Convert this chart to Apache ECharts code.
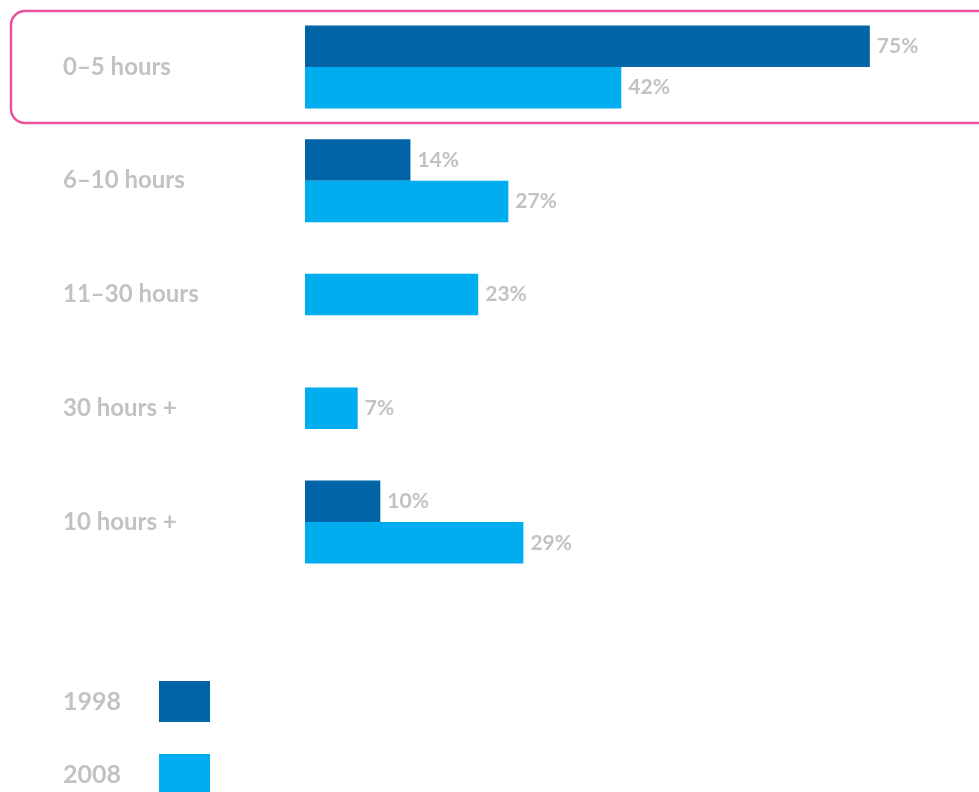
<!DOCTYPE html>
<html>
<head>
<meta charset="utf-8">
<script src="https://cdn.jsdelivr.net/npm/echarts@6/dist/echarts.min.js"></script>
<style>
html,body{margin:0;padding:0;background:#fff;}
#c{width:979px;height:792px;}
</style>
</head>
<body>
<div id="c"></div>
<script>
var categories = ['0–5 hours', '6–10 hours', '11–30 hours', '30 hours +', '10 hours +'];
var values1998 = [75, 14, null, null, 10];
var values2008 = [42, 27, 23, 7, 29];
var seriesNames = ['1998', '2008'];

var grouped2008 = values2008.map(function (v, i) { return values1998[i] == null ? null : v; });
var single2008 = values2008.map(function (v, i) { return values1998[i] == null ? v : null; });

var GRAY = '#c2c2c6';
var DARK = '#0064a7';
var LIGHT = '#00adee';
var FONT = 'Lato';

var labelCfg = {
  show: true, position: 'right', distance: 7,
  formatter: '{c}%', color: GRAY, fontFamily: FONT, fontWeight: 'bold', fontSize: 21
};

function legendFor(name, top) {
  return {
    data: [name],
    orient: 'vertical', left: 63, top: top, padding: 0,
    align: 'right', itemWidth: 51, itemHeight: 41,
    icon: 'rect', selectedMode: false,
    textStyle: { color: GRAY, fontFamily: FONT, fontWeight: 'bold', fontSize: 25, padding: [0, 33, 0, 0] }
  };
}

var chart = echarts.init(document.getElementById('c'));
chart.setOption({
  animation: false,
  textStyle: { fontFamily: FONT },
  graphic: [{
    type: 'rect', z: -1,
    shape: { x: 11, y: 11, width: 1000, height: 112, r: 14 },
    style: { fill: 'none', stroke: '#e8519b', lineWidth: 2.5 }
  }],
  legend: [legendFor(seriesNames[0], 681), legendFor(seriesNames[1], 754)],
  grid: { left: 305, right: 0, top: 10, height: 569, containLabel: false },
  xAxis: {
    type: 'value', min: 0, max: 89.5,
    show: false, splitLine: { show: false }
  },
  yAxis: [{
    type: 'category', data: categories, inverse: true,
    axisLine: { show: false }, axisTick: { show: false },
    axisLabel: { align: 'left', margin: 242, color: GRAY, fontFamily: FONT, fontWeight: 'bold', fontSize: 24 }
  }, {
    type: 'category', data: categories, inverse: true, show: false
  }],
  series: [{
    name: '1998', type: 'bar', yAxisIndex: 0, data: values1998,
    barWidth: 41.5, barGap: '0%', itemStyle: { color: DARK }, label: labelCfg
  }, {
    name: '2008', type: 'bar', yAxisIndex: 0, data: grouped2008,
    barWidth: 41.5, barGap: '0%', itemStyle: { color: LIGHT }, label: labelCfg
  }, {
    name: '2008', type: 'bar', yAxisIndex: 1, data: single2008,
    barWidth: 41.5, itemStyle: { color: LIGHT }, label: labelCfg
  }]
});
</script>
</body>
</html>
